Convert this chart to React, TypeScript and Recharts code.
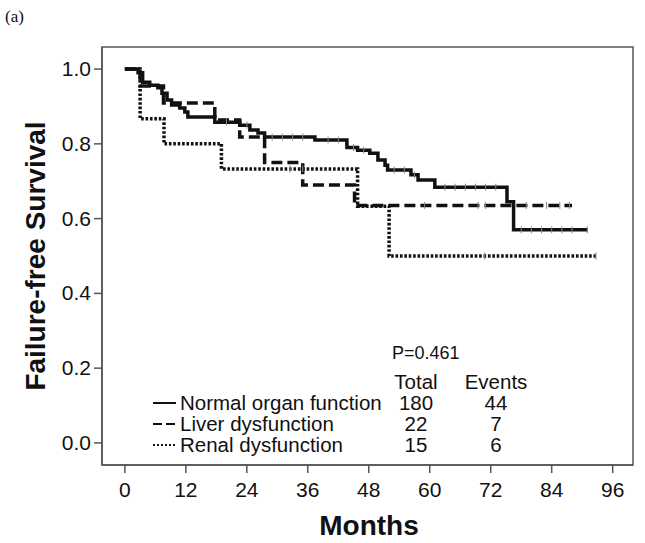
import { ComposedChart, Line, Scatter, XAxis, YAxis, ReferenceArea, Customized } from "recharts";

const monthTicks = [0, 12, 24, 36, 48, 60, 72, 84, 96];
const survivalTicks = [0, 0.2, 0.4, 0.6, 0.8, 1.0];

// Kaplan-Meier steps: [month, survival]
const normalSteps = [
  [0, 1.0], [2.6, 0.99], [3.5, 0.965], [4.9, 0.957], [6.5, 0.95], [7.3, 0.935],
  [8.3, 0.917], [9.2, 0.904], [10.8, 0.896], [11.8, 0.885], [12.4, 0.872],
  [17.7, 0.858], [22.6, 0.85], [24.6, 0.837], [26.2, 0.829], [27.5, 0.818],
  [37.4, 0.81], [43.7, 0.79], [45.8, 0.783], [48.2, 0.775], [49.8, 0.757],
  [51.2, 0.743], [51.7, 0.73], [56.3, 0.717], [57.7, 0.703], [61, 0.684],
  [75.2, 0.645], [76.5, 0.57], [91.1, 0.57],
];
const liverSteps = [
  [0, 1.0], [3, 0.955], [7.6, 0.909], [17.7, 0.864], [22.6, 0.818],
  [27.5, 0.75], [35, 0.69], [45.2, 0.635], [88, 0.635],
];
const renalSteps = [
  [0, 1.0], [3, 0.867], [7.7, 0.8], [19, 0.733], [45.8, 0.633], [52, 0.5], [92.7, 0.5],
];

// censored observations (months)
const normalCensored = [20, 24, 29, 31, 33, 35, 40, 42, 45, 47, 53, 55, 57, 63, 65, 67, 69, 71, 73, 78, 80, 82, 84, 86, 88, 91];
const liverCensored = [59, 69.5, 71, 79, 83, 85.6, 87.5];
const renalCensored = [32.5, 35, 70.8, 92.7];

const groupNames = ["Normal organ function", "Liver dysfunction", "Renal dysfunction"];
const groupTotals = [180, 22, 15];
const groupEvents = [44, 7, 6];
const pValue = "P=0.461";

const X_DOMAIN: [number, number] = [-4.5, 100];
const Y_DOMAIN: [number, number] = [-0.059, 1.059];

const toRows = (steps: number[][]) => steps.map(([t, s]) => ({ t, s }));

const survivalAt = (steps: number[][], t: number) => {
  let s = steps[0][1];
  for (const [st, sv] of steps) if (st <= t) s = sv;
  return s;
};

const censorRows = (steps: number[][], times: number[]) =>
  times.map((t) => ({ t, s: survivalAt(steps, t) }));

const FONT = "'Liberation Sans', Arial, sans-serif";
const dashes = ["", "11 5", "2.6 1.8"];

const CensorMark = (props: any) => {
  const { cx, cy } = props;
  if (cx == null || cy == null) return null;
  return <line x1={cx} x2={cx} y1={cy - 3.5} y2={cy + 3.5} stroke="#888" strokeWidth={1} />;
};

const XTick = (props: any) => {
  const { x, y, payload } = props;
  return (
    <text x={x} y={y + 22} textAnchor="middle" fontFamily={FONT} fontSize={21} fill="#111">
      {payload.value}
    </text>
  );
};

const YTick = (props: any) => {
  const { x, y, payload } = props;
  return (
    <text x={x} y={y + 7} textAnchor="end" fontFamily={FONT} fontSize={21} fill="#111">
      {Number(payload.value).toFixed(1)}
    </text>
  );
};

function Annotations() {
  const rowY = [410, 431, 452];
  return (
    <g fontFamily={FONT} fill="#111">
      <text x={5} y={22} fontFamily="'Liberation Serif', 'Times New Roman', serif" fontSize={17}>(a)</text>
      <text
        x={45}
        y={256}
        transform="rotate(-90, 45, 256)"
        textAnchor="middle"
        fontSize={28}
        fontWeight="bold"
      >
        Failure-free Survival
      </text>
      <text x={369} y={535} textAnchor="middle" fontSize={28} fontWeight="bold">Months</text>
      <text x={392} y={359} fontSize={18}>{pValue}</text>
      <text x={416} y={389} textAnchor="middle" fontSize={20.5}>Total</text>
      <text x={496} y={389} textAnchor="middle" fontSize={20.5}>Events</text>
      {groupNames.map((name, i) => (
        <g key={name}>
          <line
            x1={153}
            x2={176}
            y1={rowY[i] - 7}
            y2={rowY[i] - 7}
            stroke="#111"
            strokeWidth={2}
            strokeDasharray={i === 0 ? undefined : i === 1 ? "9 4" : "2 2"}
          />
          <text x={180} y={rowY[i]} fontSize={20.5}>{name}</text>
          <text x={416} y={rowY[i]} textAnchor="middle" fontSize={20.5}>{groupTotals[i]}</text>
          <text x={496} y={rowY[i]} textAnchor="middle" fontSize={20.5}>{groupEvents[i]}</text>
        </g>
      ))}
    </g>
  );
}

export default function App() {
  const series = [normalSteps, liverSteps, renalSteps];
  const censored = [normalCensored, liverCensored, renalCensored];
  return (
    <div style={{ position: "absolute", left: 0, top: 0, background: "#fff", fontFamily: FONT }}>
      <ComposedChart
        width={645}
        height={543}
        margin={{ top: 47, right: 12, bottom: 0, left: 0 }}
      >
        <XAxis
          dataKey="t"
          type="number"
          domain={X_DOMAIN}
          ticks={monthTicks}
          allowDataOverflow
          height={78}
          tickSize={8}
          tickMargin={2}
          axisLine={{ stroke: "#555", strokeWidth: 1.5 }}
          tickLine={{ stroke: "#555", strokeWidth: 1.5 }}
          tick={<XTick />}
        />
        <YAxis
          type="number"
          domain={Y_DOMAIN}
          ticks={survivalTicks}
          allowDataOverflow
          width={102}
          tickSize={8}
          tickMargin={3}
          axisLine={{ stroke: "#555", strokeWidth: 1.5 }}
          tickLine={{ stroke: "#555", strokeWidth: 1.5 }}
          tick={<YTick />}
        />
        <ReferenceArea
          x1={X_DOMAIN[0]}
          x2={X_DOMAIN[1]}
          y1={Y_DOMAIN[0]}
          y2={Y_DOMAIN[1]}
          fill="none"
          stroke="#555"
          strokeWidth={1.5}
          ifOverflow="visible"
        />
        {series.map((steps, i) => (
          <Line
            key={groupNames[i]}
            data={toRows(steps)}
            dataKey="s"
            type="stepAfter"
            stroke="#111"
            strokeWidth={3.5}
            strokeDasharray={dashes[i] || undefined}
            dot={false}
            activeDot={false}
            isAnimationActive={false}
          />
        ))}
        {censored.map((times, i) => (
          <Scatter
            key={"c" + i}
            data={censorRows(series[i], times)}
            dataKey="s"
            shape={CensorMark}
            isAnimationActive={false}
          />
        ))}
        <Customized component={Annotations} />
      </ComposedChart>
    </div>
  );
}
